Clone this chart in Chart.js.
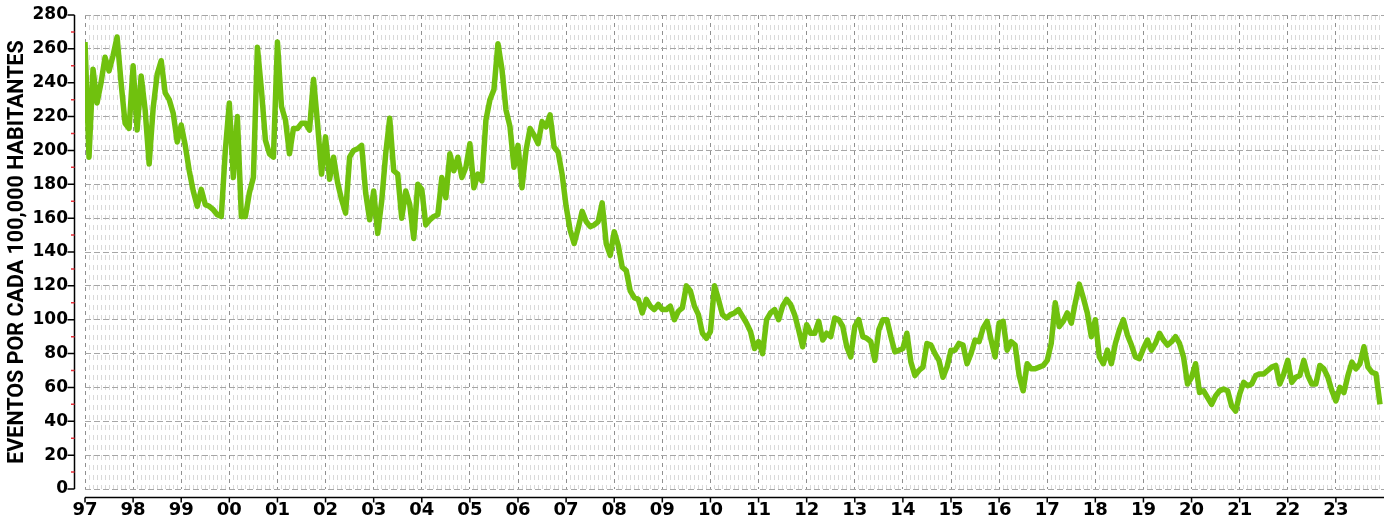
<!DOCTYPE html>
<html>
<head>
<meta charset="utf-8">
<script src="https://cdn.jsdelivr.net/npm/chart.js@4.4.1/dist/chart.umd.min.js"></script>
<style>
  html, body { margin: 0; padding: 0; background: #fff; }
  canvas { display: block; }
</style>
</head>
<body>
<canvas id="lineChart" width="1395" height="524"></canvas>
<script>
// etiquetas de los años (una por enero)
var yearLabels = ['97', '98', '99', '00', '01', '02', '03', '04', '05', '06', '07', '08', '09',
    '10', '11', '12', '13', '14', '15', '16', '17', '18', '19', '20', '21', '22', '23'];

// tasa mensual, eventos por cada 100,000 habitantes (ene 1997 - dic 2023)
var rates = [
    264, 196, 248, 228, 240, 255, 247, 256, 267, 240, 216, 213,
    250, 212, 244, 224, 192, 225, 245, 253, 234, 230, 222, 205,
    215, 203, 188, 176, 167, 177, 168, 167, 165, 162, 161, 200,
    228, 184, 220, 161, 161, 175, 184, 261, 236, 206, 198, 196,
    264, 226, 218, 198, 213, 213, 216, 216, 212, 242, 216, 186,
    208, 183, 196, 181, 171, 163, 196, 200, 201, 203, 175, 159,
    176, 151, 170, 198, 219, 188, 186, 160, 176, 168, 148, 180,
    177, 156, 159, 161, 162, 184, 172, 198, 188, 196, 184, 190,
    204, 178, 186, 182, 218, 230, 236, 263, 248, 224, 214, 190,
    203, 178, 200, 213, 209, 204, 217, 214, 221, 202, 199, 186,
    167, 153, 145, 154, 164, 158, 155, 156, 158, 169, 145, 138,
    152, 144, 131, 129, 117, 113, 112, 104, 112, 108, 106, 109,
    106, 106, 108, 100, 105, 107, 120, 117, 108, 103, 92, 89,
    93, 120, 112, 103, 101, 103, 104, 106, 102, 98, 93, 83,
    87, 80, 100, 104, 106, 100, 108, 112, 109, 103, 94, 84,
    97, 92, 92, 99, 88, 92, 90, 101, 100, 96, 84, 78,
    96, 100, 90, 89, 87, 76, 94, 100, 100, 90, 81, 82,
    83, 92, 75, 67, 70, 72, 86, 85, 80, 76, 66, 72,
    82, 82, 86, 85, 74, 80, 88, 87, 95, 99, 88, 78,
    98, 99, 82, 87, 85, 67, 58, 74, 71, 71, 72, 73,
    76, 86, 110, 96, 99, 104, 98, 110, 121, 113, 104, 90,
    100, 78, 74, 82, 74, 86, 94, 100, 91, 85, 78, 77,
    83, 88, 82, 86, 92, 88, 85, 87, 90, 86, 78, 62,
    66, 74, 57, 58, 54, 50, 55, 58, 59, 58, 49, 46,
    56, 63, 61, 62, 67, 68, 68, 70, 72, 73, 62, 68,
    76, 63, 66, 67, 76, 67, 62, 62, 73, 71, 66, 58,
    52, 60, 57, 67, 75, 71, 74, 84, 72, 69, 68, 50
];

var yMax = 280;
var yStep = 20;
var totalMonths = yearLabels.length * 12;

// líneas de eje y marcas, separadas del área del gráfico
var axisLines = {
    id: 'axisLines',
    afterDraw: function (chart) {
        var ctx = chart.ctx;
        var x = chart.scales.x;
        var y = chart.scales.y;
        var ax = x.left - 10.5;
        var ay = y.bottom + 8.5;
        ctx.save();
        ctx.lineWidth = 1.5;
        ctx.strokeStyle = '#000';
        ctx.beginPath();
        ctx.moveTo(ax, y.getPixelForValue(yMax));
        ctx.lineTo(ax, y.getPixelForValue(0));
        for (var v = 0; v <= yMax; v += yStep) {
            var py = y.getPixelForValue(v);
            ctx.moveTo(ax - 7, py);
            ctx.lineTo(ax, py);
        }
        ctx.moveTo(x.left, ay);
        ctx.lineTo(x.right, ay);
        for (var i = 0; i < yearLabels.length; i++) {
            var px = x.getPixelForValue(i * 12);
            ctx.moveTo(px, ay);
            ctx.lineTo(px, ay + 5);
        }
        ctx.stroke();
        // marcas menores en rojo
        ctx.strokeStyle = '#e8323c';
        ctx.beginPath();
        for (var m = yStep / 2; m < yMax; m += yStep) {
            var pm = y.getPixelForValue(m);
            ctx.moveTo(ax - 3.5, pm);
            ctx.lineTo(ax, pm);
        }
        ctx.stroke();
        ctx.restore();
    }
};

var lineCtx = document.getElementById('lineChart').getContext('2d');
var lineChart = new Chart(lineCtx, {
    type: 'line',
    data: {
        datasets: [{
            label: 'Eventos',
            data: rates.map(function (v, i) { return { x: i, y: v }; }),
            borderColor: '#70c10e',
            borderWidth: 5.5,
            pointRadius: 0,
            tension: 0,
            borderJoinStyle: 'round',
            fill: false
        }]
    },
    plugins: [axisLines],
    options: {
        responsive: false,
        animation: false,
        layout: { padding: { left: 0, top: 15, right: 6, bottom: 0 } },
        plugins: {
            legend: { display: false },
            tooltip: { enabled: false }
        },
        scales: {
            x: {
                type: 'linear',
                min: 0,
                max: totalMonths,
                afterFit: function (s) { s.height = 35; },
                afterBuildTicks: function (s) {
                    var t = [];
                    for (var i = 0; i <= totalMonths; i++) t.push({ value: i });
                    s.ticks = t;
                },
                border: {
                    display: false,
                    dash: function (c) {
                        return c.tick && c.tick.value % 12 === 0 ? [4, 4] : [5, 5];
                    }
                },
                grid: {
                    drawTicks: false,
                    lineWidth: 1,
                    color: function (c) {
                        if (!c.tick || c.tick.value >= totalMonths) return 'rgba(0,0,0,0)';
                        return c.tick.value % 12 === 0 ? '#8f8f8f' : '#dadada';
                    }
                },
                ticks: {
                    autoSkip: false,
                    maxRotation: 0,
                    padding: 11,
                    color: '#000',
                    font: { family: 'DejaVu Sans', weight: 'bold', size: 18 },
                    callback: function (v) {
                        if (v % 12 !== 0 || v >= totalMonths) return '';
                        return yearLabels[v / 12];
                    }
                }
            },
            y: {
                min: 0,
                max: yMax,
                afterFit: function (s) {
                    s.width = 85;
                    s.paddingTop = 0;
                    s.paddingBottom = 0;
                },
                border: { display: false, dash: [6, 3] },
                grid: {
                    drawTicks: false,
                    color: '#a6a6a6',
                    lineWidth: 1
                },
                ticks: {
                    stepSize: yStep,
                    padding: 17,
                    color: '#000',
                    font: { family: 'DejaVu Sans', weight: 'bold', size: 17 }
                },
                title: {
                    display: true,
                    text: 'EVENTOS POR CADA 100,000 HABITANTES',
                    color: '#000',
                    font: { family: 'Roboto', weight: 'bold', size: 21.5 },
                    padding: { top: 5, bottom: 0 }
                }
            }
        }
    }
});
</script>
</body>
</html>
